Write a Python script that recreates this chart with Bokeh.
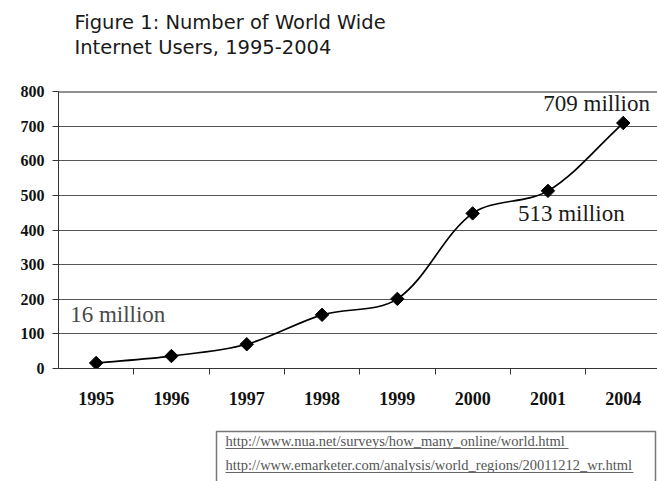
import math

from bokeh.core.properties import value
from bokeh.embed import file_html
from bokeh.layouts import column
from bokeh.models import ColumnDataSource, FixedTicker, Range1d, Span
from bokeh.plotting import figure
from bokeh.resources import INLINE

# Internet users worldwide, millions
years = ["1995", "1996", "1997", "1998", "1999", "2000", "2001", "2004"]
users = [16, 36, 70, 155, 201, 448, 513, 709]
y_ticks = [0, 100, 200, 300, 400, 500, 600, 700, 800]

title_lines = ["Figure 1: Number of World Wide", "Internet Users, 1995-2004"]
sources = [
    "http://www.nua.net/surveys/how_many_online/world.html",
    "http://www.emarketer.com/analysis/world_regions/20011212_wr.html",
]

W = 657
SERIF = "Liberation Serif"
left, top, bottom = 58, 21, 52


def base(y, fs):
    # place text so that its baseline lands on y (y grows downward here)
    return y - 0.36 * fs


# ---------- title strip ----------
t = figure(width=W, height=70, x_range=Range1d(left, W), y_range=Range1d(70, 0),
           output_backend="svg", toolbar_location=None,
           min_border_left=left, min_border_right=0, min_border_top=0, min_border_bottom=0)
t.axis.visible = False
t.grid.visible = False
t.outline_line_color = None
t.text(x=[74, 74], y=[base(29, 19.5), base(54, 19.5)], text=title_lines,
       text_font=value("DejaVu Sans"), text_font_size="19.5px", text_color="#1a1a1a",
       text_baseline="alphabetic")

# ---------- chart ----------
frame_w = W - left
x_start = -0.5
cat_px = 75.3
x_end = x_start + frame_w / cat_px

p = figure(width=W, height=350, x_range=Range1d(x_start, x_end), y_range=Range1d(0, 800),
           output_backend="svg", toolbar_location=None,
           min_border_left=left, min_border_right=0, min_border_top=top,
           min_border_bottom=bottom)
p.outline_line_color = None
p.background_fill_color = "white"

xs = list(range(len(years)))

# x axis: labels at category centres, small ticks between categories
p.xaxis.ticker = FixedTicker(ticks=xs, minor_ticks=[i + 0.5 for i in xs[:-1]])
p.xaxis.major_label_overrides = {i: y for i, y in zip(xs, years)}
p.xaxis.major_tick_line_color = None
p.xaxis.minor_tick_in = 0
p.xaxis.minor_tick_out = 6
p.xaxis.minor_tick_line_color = "#333333"
p.xaxis.axis_line_color = "#333333"
p.xaxis.major_label_text_font = SERIF
p.xaxis.major_label_text_font_style = "bold"
p.xaxis.major_label_text_font_size = "18px"
p.xaxis.major_label_text_color = "#111111"
p.xaxis.major_label_standoff = 17

p.yaxis.ticker = FixedTicker(ticks=y_ticks)
p.yaxis.minor_tick_line_color = None
p.yaxis.major_tick_in = 0
p.yaxis.major_tick_out = 6
p.yaxis.major_tick_line_color = "#333333"
p.yaxis.axis_line_color = "#333333"
p.yaxis.major_label_text_font = SERIF
p.yaxis.major_label_text_font_style = "bold"
p.yaxis.major_label_text_font_size = "16px"
p.yaxis.major_label_text_color = "#111111"
p.yaxis.major_label_standoff = 8

p.xgrid.visible = False
p.ygrid.ticker = FixedTicker(ticks=y_ticks[1:-1])
p.ygrid.grid_line_color = "#555555"
p.ygrid.grid_line_width = 1
p.add_layout(Span(location=800, dimension="width", line_color="#222222", line_width=2))

# smoothed line: cubic Bezier segments whose control arms follow the
# neighbouring points, computed in screen proportions
sx = cat_px
sy = 277.6 / 800
pts = [(x * sx, v * sy) for x, v in zip(xs, users)]


def dist(a, b):
    return math.hypot(b[0] - a[0], b[1] - a[1])


x0s, y0s, x1s, y1s, cx0, cy0, cx1, cy1 = ([] for _ in range(8))
n = len(pts)
for i in range(n - 1):
    P0 = pts[i - 1] if i > 0 else pts[i]
    P1, P2 = pts[i], pts[i + 1]
    P3 = pts[i + 2] if i + 2 < n else pts[i + 1]
    d01, d12, d23 = dist(P0, P1), dist(P1, P2), dist(P2, P3)
    t1 = ((P2[0] - P0[0]) / (d01 + d12), (P2[1] - P0[1]) / (d01 + d12))
    t2 = ((P3[0] - P1[0]) / (d12 + d23), (P3[1] - P1[1]) / (d12 + d23))
    c1 = (P1[0] + t1[0] * d12 / 3, P1[1] + t1[1] * d12 / 3)
    c2 = (P2[0] - t2[0] * d12 / 3, P2[1] - t2[1] * d12 / 3)
    x0s.append(P1[0] / sx); y0s.append(P1[1] / sy)
    x1s.append(P2[0] / sx); y1s.append(P2[1] / sy)
    cx0.append(c1[0] / sx); cy0.append(c1[1] / sy)
    cx1.append(c2[0] / sx); cy1.append(c2[1] / sy)

p.bezier(x0=x0s, y0=y0s, x1=x1s, y1=y1s, cx0=cx0, cy0=cy0, cx1=cx1, cy1=cy1,
         line_color="black", line_width=1.7)

src = ColumnDataSource(dict(x=xs, y=users))
p.scatter("x", "y", source=src, marker="square", angle=math.pi / 4, size=9.5,
          fill_color="black", line_color="black")

# value callouts
first, second_last, last = 0, len(users) - 2, len(users) - 1
callouts = [
    (first, "#4a4a4a", -26, -40),
    (second_last, "#1a1a1a", -30, 31),
    (last, "#1a1a1a", -80, -11),
]
fs_call = 23
for idx, color, dx, dy in callouts:
    p.text(x=[xs[idx]], y=[users[idx]], text=[f"{users[idx]} million"],
           x_offset=dx, y_offset=dy - 0.36 * fs_call, text_font=value(SERIF),
           text_font_size=f"{fs_call}px", text_color=color,
           text_baseline="alphabetic", text_align="left")

# ---------- source box ----------
s = figure(width=W, height=61, x_range=Range1d(left, W), y_range=Range1d(61, 0),
           output_backend="svg", toolbar_location=None,
           min_border_left=left, min_border_right=0, min_border_top=0, min_border_bottom=0)
s.axis.visible = False
s.grid.visible = False
s.outline_line_color = None
s.quad(left=[216], right=[655], top=[11], bottom=[70], fill_color=None,
       line_color="#777777", line_width=1.5)
fs_src = 14.5
s.text(x=[225, 225], y=[base(26, fs_src), base(50, fs_src)], text=sources,
       text_font=value(SERIF), text_font_size=f"{fs_src}px", text_color="#555555",
       text_baseline="alphabetic")
s.segment(x0=[225, 225], y0=[28, 52], x1=[568, 633], y1=[28, 52],
          line_color="#666666", line_width=1)

layout = column(t, p, s, spacing=0)
open("out.html", "w").write(file_html(layout, INLINE))
